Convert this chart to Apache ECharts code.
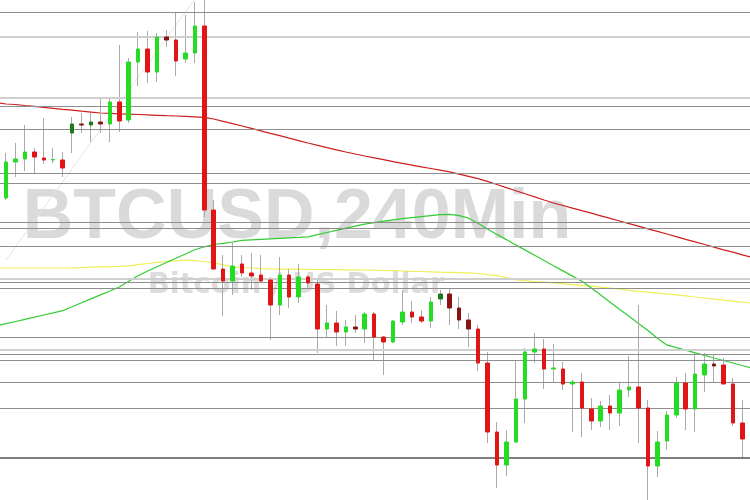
<!DOCTYPE html>
<html><head><meta charset="utf-8">
<script src="https://cdn.jsdelivr.net/npm/echarts@6/dist/echarts.min.js"></script>
<style>html,body{margin:0;padding:0;background:#fff}#c{width:750px;height:500px}</style>
</head><body><div id="c"></div>
<script>
// OHLC candles: [open, close, low, high]
const candles = [
[302,338,300,347],[338,341,323,357],[341,348,329,375],[348,343,327,352],[342,340,336,382],
[340,340.5,337,352],[340,332,323,348],[367,376,347,383],[376,375,367,387],[375,378,358,387],
[378,376,367,402],[376,398,358,402],[398,379,368,455],[380,438,377,442],[438,451,414,468],
[451,428,417,469],[428,463,418,467],[463,460,453,470],[460,439,424,487],[441,447,437,485],
[447,474,437,498],[474,290,283,500],[290,231,230,300],[231,219,184,245],[219,234,205,258],
[236,227,223,245],[227,224,210,247],[225,219,217,245],[220,195,160,223],[195,225,185,243],
[225,203,192,231],[203,223,197,236],[223,217,212,225],[216,171,147,222],[171,177,163,195],
[177,168,154,189],[168,173,154,180],[173,171,167,185],[171,186,157,188],[186,163,140,188],
[163,158,125,164],[158,179,157,180],[178,188,175,210],[188,183,177,199],[183,179,177,190],
[179,198,172,203],[201,206,195,210],[206,192,175,212],[192,180,171,203],[180,171,153,187],
[171,137,129,175],[137,68,57,148],[68,35,12,78],[35,58,24,70],[58,101,57,139],
[101,148,77,152],[148,151,137,167],[151,131,111,161],[131,132,117,156],[131,116,110,138],
[116,118,68,120],[118,92,63,127],[91,79,70,102],[79,94,73,99],[94,87,70,105],
[87,110,74,118],[110,113,103,144],[113,92,57,195],[92,34,0,100],[34,58,23,69],
[59,85,50,89],[85,117,82,123],[117,91,70,127],[91,126,68,147],[125,136,108,147],
[136,134,117,145],[135,116,116,142],[116,77,74,122],[77,61,42,100],[61,72,55,80]
];

// moving averages; first value sits one bar before the first visible candle (off the left edge)
const maRed = [397.4,396,395.5,394.5,393.6,392.6,391.7,390.7,389.8,388.8,387.9,
387,386.6,386.2,385.9,385.5,385.1,384.7,384.3,384,383.6,
383.2,382.6,381,378.6,376.3,374,371.6,369.2,366.7,364.3,
361.8,359.4,357,354.7,352.4,350.2,348,346,344,342.2,
340.3,338.4,336.6,334.9,333.2,331.5,329.8,328.1,325.9,323.6,
321.3,318.6,315.5,312.4,309.3,306.2,303.1,300,297,294.5,
291.9,289.3,286.8,284.2,281.6,279,276.4,273.8,271.2,268.6,
266,263.4,260.7,258.1,255.5,252.9,250.2,247.8,245.2,242.5];

const maGreen = [174,176.4,178.5,180.7,182.8,185,187.1,189.3,193.2,197.2,201.1,
205.1,209,213,218.7,224.2,229,233.3,237.5,241.8,246,
250.3,253.2,255.5,256.6,258,259.6,260.1,260.6,261.1,261.6,
262.1,262.6,263.2,265.3,267.5,269.6,271.8,273.9,275.9,277.3,
278.8,280.2,281.3,282.3,283.3,284.3,285.3,285.6,284.4,281.8,
276.8,270.9,265.6,260.4,255.1,249.9,244.7,239.5,234.3,229.1,
223.9,218.7,212,204.9,197.8,190.6,183.7,176.6,169.5,161.7,
155.1,152.4,149.8,147.2,144.6,142,139.5,137,134.5,132];

const maYellow = [232,232,232,232,232,232,232,232,232.2,232.5,232.8,
233.1,233.4,233.7,234.2,235.4,236.5,237.6,238.5,239.2,239.9,
239.4,238.5,237.2,235.2,233.1,232.5,232,231.4,231,230.9,
230.8,230.7,230.6,230.5,230.4,230.3,230.2,230.1,230,229.8,
229.5,229.3,229,228.7,228.5,228.2,227.9,227.7,227.4,227.1,
226.5,225.4,224.3,222.5,220.2,219.3,218.5,217.8,217,216.2,
215.4,214.7,213.9,212.9,211.8,210.8,209.7,208.7,207.8,206.9,
206.1,205.1,204.1,203,202,200.9,199.8,198.8,197.8,196.8];

// horizontal price levels
const levels = [488,394,371,327,317,278,272,254,218,212,163,146,140,118,92];
const lightLevels = [463,402,221,150];
const darkLevels = [42];

// faint trend line endpoints [slot index, price]
const trendLine = [[1,240],[21,501]];

const titleText = 'BTCUSD,240Min';
const subtitleText = 'Bitcoin / US Dollar';

// style config
const UP = '#22dd22', DOWN = '#e01515', UP_DARK = '#1c7a1c', DOWN_DARK = '#8a1212';
const darkCandles = [7,8,9,10,17,37,46,47,48,49,75];

const categories = maRed.map((_, i) => 'T' + i);
const wicks = ['-'].concat(candles);
const bodies = ['-'].concat(candles.map((c, i) => {
  const v = [c[0], c[1], Math.min(c[0], c[1]), Math.max(c[0], c[1])];
  if (darkCandles.indexOf(i) >= 0) {
    const col = c[1] >= c[0] ? UP_DARK : DOWN_DARK;
    return { value: v, itemStyle: { color: col, color0: col, borderColor: col, borderColor0: col } };
  }
  return v;
}));

const levelData = []
  .concat(levels.map(v => ({ yAxis: v, lineStyle: { color: '#8e8e8e', width: 1, type: 'solid' } })))
  .concat(lightLevels.map(v => ({ yAxis: v, lineStyle: { color: '#cfcfcf', width: 2, type: 'solid' } })))
  .concat(darkLevels.map(v => ({ yAxis: v, lineStyle: { color: '#555555', width: 1.5, type: 'solid' } })));

const BAND = 9.44;
const chart = echarts.init(document.getElementById('c'), null, { renderer: 'canvas' });
chart.setOption({
  animation: false,
  backgroundColor: '#ffffff',
  grid: { left: 1.3 - BAND, top: 0, width: BAND * categories.length, height: 500, outerBoundsMode: 'none' },
  xAxis: { type: 'category', data: categories, boundaryGap: true, show: false },
  yAxis: { type: 'value', min: 0, max: 500, show: false, splitLine: { show: false } },
  graphic: [
    { type: 'text', x: 297, y: 219, z: 0, silent: true,
      style: { text: titleText, font: 'bold 70px "Liberation Sans", Arial, sans-serif', fill: '#dadada',
               align: 'center', verticalAlign: 'middle', textAlign: 'center', textVerticalAlign: 'middle' } },
    { type: 'text', x: 296, y: 285, z: 0, silent: true,
      style: { text: subtitleText, font: 'bold 29px "DejaVu Sans", sans-serif', fill: '#dcdcdc',
               align: 'center', verticalAlign: 'middle', textAlign: 'center', textVerticalAlign: 'middle' } }
  ],
  series: [
    { type: 'line', data: [], z: 1, silent: true,
      markLine: { symbol: ['none', 'none'], silent: true, label: { show: false }, data: levelData } },
    { type: 'line', data: trendLine, z: 1, symbol: 'none', silent: true,
      lineStyle: { color: '#e4e4e4', width: 1 } },
    { type: 'line', data: maYellow, z: 3, symbol: 'none', silent: true,
      lineStyle: { color: '#efef5a', width: 1.2 } },
    { type: 'line', data: maGreen, z: 3, symbol: 'none', silent: true,
      lineStyle: { color: '#33cc33', width: 1.2 } },
    { type: 'line', data: maRed, z: 3, symbol: 'none', silent: true,
      lineStyle: { color: '#cc1f1f', width: 1.2 } },
    { type: 'candlestick', data: wicks, z: 4, barWidth: 0.5, silent: true,
      itemStyle: { color: '#aaaaaa', color0: '#aaaaaa', borderColor: '#aaaaaa', borderColor0: '#aaaaaa', borderWidth: 1 } },
    { type: 'candlestick', data: bodies, z: 5, barWidth: 4, silent: true,
      itemStyle: { color: UP, color0: DOWN, borderColor: UP, borderColor0: DOWN, borderWidth: 1 } }
  ]
});
</script></body></html>
